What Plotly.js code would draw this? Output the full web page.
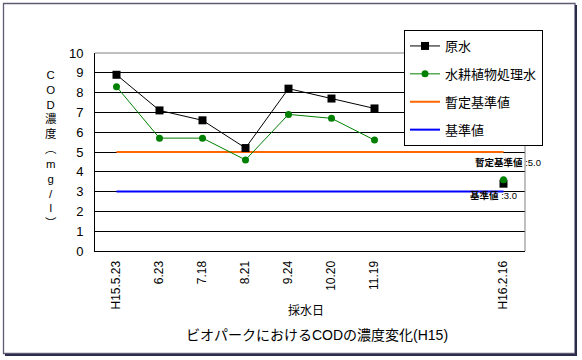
<!DOCTYPE html>
<html>
<head>
<meta charset="utf-8">
<script src="https://cdn.plot.ly/plotly-3.0.1.min.js"></script>
<style>html,body{margin:0;padding:0;background:#fff}#chart{width:582px;height:360px}</style>
</head>
<body>
<div id="chart"></div>
<script>
const dates = ["H15.5.23","6.23","7.18","8.21","9.24","10.20","11.19"," ","  ","H16.2.16"];
const rawWater = [8.9, 7.1, 6.6, 5.2, 8.2, 7.7, 7.2, null, null, 3.4];
const treatedWater = [8.3, 5.7, 5.7, 4.6, 6.9, 6.7, 5.6, null, null, 3.6];
const provisionalStd = [5.0, 5.0, 5.0, 5.0, 5.0, 5.0, 5.0, 5.0, 5.0, 5.0];
const standard = [3.0, 3.0, 3.0, 3.0, 3.0, 3.0, 3.0, 3.0, 3.0, 3.0];
const yTicks = [0,1,2,3,4,5,6,7,8,9,10];

const FONT = "Liberation Sans, 'Noto Sans CJK JP', sans-serif";
const W = 582, H = 360, L = 95, R = 525, T = 53, B = 251;
const px = x => (x - L) / (R - L);
const py = y => (B - y) / (B - T);

const traces = [
  {x: dates, y: provisionalStd, name: "暫定基準値", mode: "lines", legendgroup: "c", legendrank: 3,
   line: {color: "#FF6600", width: 2}, hoverinfo: "skip"},
  {x: dates, y: standard, name: "基準値", mode: "lines", legendgroup: "d", legendrank: 4,
   line: {color: "#0000FF", width: 2}, hoverinfo: "skip"},
  {x: dates, y: rawWater, name: "原水", mode: "lines+markers", legendgroup: "a", legendrank: 1,
   line: {color: "#000000", width: 1}, marker: {symbol: "square", size: 8, color: "#000000"}, connectgaps: false},
  {x: dates, y: treatedWater, name: "水耕植物処理水", mode: "lines+markers", legendgroup: "b", legendrank: 2,
   line: {color: "#008000", width: 1}, marker: {symbol: "circle", size: 7, color: "#008000"}, connectgaps: false}
];

const layout = {
  width: W, height: H,
  margin: {l: L, r: W - R, t: T, b: H - B, pad: 0},
  paper_bgcolor: "#ffffff", plot_bgcolor: "#ffffff",
  font: {family: FONT, color: "#000000", size: 12},
  showlegend: true,
  legend: {x: px(404), y: py(30), xanchor: "left", yanchor: "top",
    bgcolor: "#ffffff", bordercolor: "#000000", borderwidth: 1,
    font: {family: FONT, size: 13}, tracegroupgap: 8, traceorder: "grouped"},
  title: {text: "ビオパークにおけるCODの濃度変化(H15)", font: {family: FONT, size: 14},
    x: px(317), xref: "paper", xanchor: "center", y: 1 - 335 / H, yref: "container", yanchor: "middle"},
  xaxis: {type: "category", categoryorder: "array", categoryarray: dates, range: [-0.5, 9.5],
    showgrid: false, zeroline: false, showline: true, linecolor: "#000000", linewidth: 1,
    ticks: "", tickangle: -90, tickfont: {family: FONT, size: 12}, ticklabelstandoff: 4, fixedrange: true},
  yaxis: {range: [0, 10], tickvals: yTicks, showgrid: true, gridcolor: "#000000", gridwidth: 1,
    zeroline: false, showline: true, linecolor: "#000000", linewidth: 1, ticks: "",
    tickfont: {family: FONT, size: 13}, ticklabelstandoff: 8, fixedrange: true},
  shapes: [
    {type: "line", xref: "paper", yref: "paper", x0: 0, x1: 1, y0: 1, y1: 1, line: {color: "#808080", width: 1}, layer: "above"},
    {type: "line", xref: "paper", yref: "paper", x0: 1, x1: 1, y0: 0, y1: 1, line: {color: "#808080", width: 1}, layer: "above"},
    {type: "rect", xref: "paper", yref: "paper", x0: px(3.5), x1: px(575), y0: py(353.5), y1: py(3.5), line: {color: "#5f5b75", width: 1.3}},
    {type: "line", xref: "paper", yref: "paper", x0: px(576), x1: px(576), y0: py(355.5), y1: py(5), line: {color: "#2b2b4a", width: 2}},
    {type: "line", xref: "paper", yref: "paper", x0: px(5), x1: px(577), y0: py(355), y1: py(355), line: {color: "#2b2b4a", width: 2}}
  ],
  annotations: [
    {text: "C<br>O<br>D<br>濃<br>度<br>︵<br>m<br>g<br>/<br>l<br>︶", xref: "paper", yref: "paper",
     x: px(51), y: py(149), xanchor: "center", yanchor: "middle", showarrow: false, font: {family: FONT, size: 11.4}},
    {text: "採水日", xref: "paper", yref: "paper", x: px(306), y: py(311), xanchor: "center", yanchor: "middle",
     showarrow: false, font: {family: FONT, size: 12}},
    {text: "<b>暫定基準値</b> :5.0", xref: "paper", yref: "paper", x: px(543), y: py(162), xanchor: "right", yanchor: "middle",
     showarrow: false, font: {family: FONT, size: 9.5}},
    {text: "<b>基準値</b> :3.0", xref: "paper", yref: "paper", x: px(519), y: py(195), xanchor: "right", yanchor: "middle",
     showarrow: false, font: {family: FONT, size: 9.5}}
  ]
};

Plotly.newPlot("chart", traces, layout, {displayModeBar: false, staticPlot: true});
</script>
</body>
</html>
